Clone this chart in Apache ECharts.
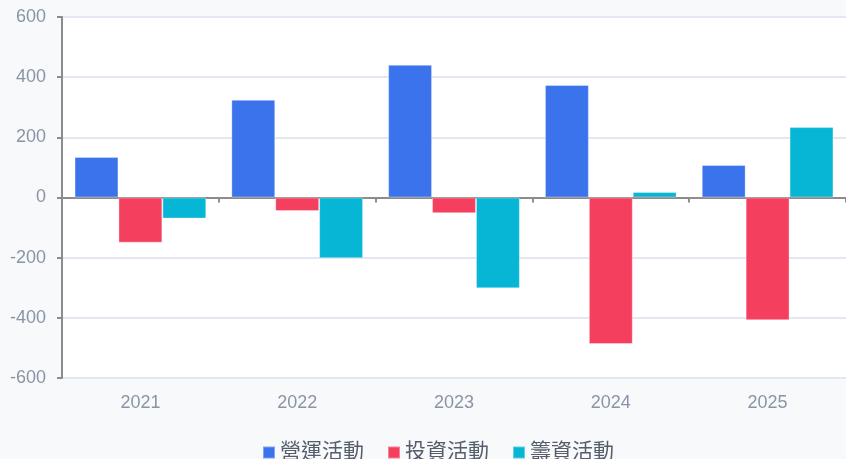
<!DOCTYPE html>
<html><head><meta charset="utf-8">
<script src="https://cdn.jsdelivr.net/npm/echarts@6/dist/echarts.min.js"></script>
<style>html,body{margin:0;padding:0;background:#f8f9fb;}#c{width:846px;height:459px;}</style>
</head><body><div id="c"></div>
<script>
var categories = ['2021','2022','2023','2024','2025'];
var seriesNames = ['營運活動','投資活動','籌資活動'];
var operating = [135, 325, 441, 374, 108];
var investing = [-150, -45, -52, -487, -408];
var financing = [-70, -202, -302, 18, 234];
var colors = ['#3a73ec','#f43f5e','#06b6d4'];
var font = '"Liberation Sans","Noto Sans CJK TC",sans-serif';

var chart = echarts.init(document.getElementById('c'));
function bar(name, data, i){
  return {name:name, type:'bar', data:data, xAxisIndex:0, barGap:'0%', barCategoryGap:'16%',
    itemStyle:{color:colors[i], borderColor:'rgba(255,255,255,0.35)', borderWidth:1}};
}
chart.setOption({
  backgroundColor:'#f8f9fb',
  animation:false,
  grid:{left:62, right:0, top:17, bottom:81, show:true, backgroundColor:'#ffffff', borderWidth:0},
  legend:{left:257, top:437, itemWidth:12, itemHeight:12, itemGap:23, icon:'rect',
    textStyle:{fontSize:21, color:'#555d6b', fontFamily:font}, data:seriesNames},
  xAxis:[
    {type:'category', data:categories, position:'bottom', axisLine:{show:false, onZero:false},
     axisTick:{show:false}, axisLabel:{fontSize:18, color:'#8a94a6', margin:16, fontFamily:font}},
    {type:'category', data:categories, position:'bottom',
     axisLine:{show:true, onZero:true, lineStyle:{color:'#8c8c8c', width:2}},
     axisTick:{show:true, length:5, lineStyle:{color:'#8c8c8c', width:2}},
     axisLabel:{show:false}}
  ],
  yAxis:{type:'value', min:-600, max:600, interval:200,
    axisLine:{show:true, lineStyle:{color:'#8c8c8c', width:2}},
    axisTick:{show:true, length:5, lineStyle:{color:'#8c8c8c', width:2}},
    axisLabel:{fontSize:18, color:'#8a94a6', margin:16, fontFamily:font},
    splitLine:{lineStyle:{color:'#e2e7f1', width:2}}},
  series:[bar(seriesNames[0], operating, 0), bar(seriesNames[1], investing, 1), bar(seriesNames[2], financing, 2)]
});
</script></body></html>
